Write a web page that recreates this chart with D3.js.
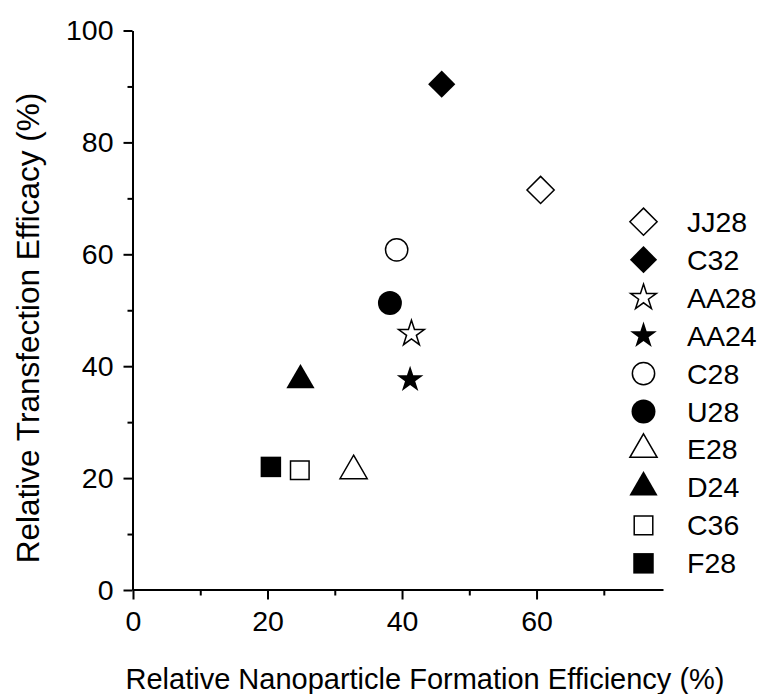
<!DOCTYPE html>
<html>
<head>
<meta charset="utf-8">
<script src="https://cdn.jsdelivr.net/npm/d3@7"></script>
<style>
  html, body { margin: 0; padding: 0; background: #fff; }
  svg { display: block; font-family: "Liberation Sans", Arial, Helvetica, sans-serif; }
</style>
</head>
<body>
<svg id="chart" width="767" height="694"></svg>
<script>
// ---- data ----
const names   = ["JJ28", "C32", "AA28", "AA24", "C28", "U28", "E28", "D24", "C36", "F28"];
const xValues = [60.6, 45.9, 41.4, 41.2, 39.2, 38.2, 32.8, 24.9, 24.8, 20.5];
const yValues = [71.5, 90.4, 45.8, 37.6, 60.8, 51.3, 21.3, 37.5, 21.4, 22.0];
const shapes  = ["diamond", "diamond", "star", "star", "circle", "circle", "triangle", "triangle", "square", "square"];
const filled  = [false, true, false, true, false, true, false, true, false, true];
const xTicks  = [0, 20, 40, 60];
const xMinor  = [10, 30, 50, 70];
const yTicks  = [0, 20, 40, 60, 80, 100];
const yMinor  = [10, 30, 50, 70, 90];

const svg = d3.select("#chart");
const tickFont = 28.5;
const titleFont = 29;
const yTitleFont = 31.5;
const legendFont = 28.5;

const x = d3.scaleLinear().domain([0, 78.8]).range([133, 663]);
const y = d3.scaleLinear().domain([0, 100]).range([590, 30.5]);

// custom square-diamond (rotated square)
const symbolRhombus = {
  draw(ctx, size) {
    const h = Math.sqrt(size / 2);
    ctx.moveTo(0, -h); ctx.lineTo(h, 0); ctx.lineTo(0, h); ctx.lineTo(-h, 0); ctx.closePath();
  }
};
const symType = { diamond: symbolRhombus, star: d3.symbolStar, circle: d3.symbolCircle, triangle: d3.symbolTriangle, square: d3.symbolSquare };
const symSize = { diamond: 370, star: 205, circle: 390, triangle: 320, square: 380 };
function symPath(shape, isFilled) {
  let s = symSize[shape];
  if (shape === "circle" && isFilled) s = 450;
  if (shape === "square" && isFilled) s = 420;
  if (shape === "square" && !isFilled) s = 345;
  if (shape === "star" && isFilled) s = 220;
  if (shape === "triangle" && isFilled) s = 345;
  return d3.symbol().type(symType[shape]).size(s)();
}

// ---- axes ----
function styleAxis(g) {
  g.selectAll("path.domain").attr("stroke", "#000").attr("stroke-width", 2);
  g.selectAll(".tick line").attr("stroke", "#000").attr("stroke-width", 2);
  g.selectAll(".tick text").attr("fill", "#000").style("font-size", tickFont + "px")
    .style("font-family", '"Liberation Sans", Arial, sans-serif');
}

const xAxis = svg.append("g").attr("transform", "translate(0,589.5)")
  .call(d3.axisBottom(x).tickValues(xTicks).tickSize(10).tickSizeOuter(0).tickPadding(11).tickFormat(d3.format("d")));
styleAxis(xAxis);
const xAxisMinor = svg.append("g").attr("transform", "translate(0,589.5)")
  .call(d3.axisBottom(x).tickValues(xMinor).tickSize(6).tickSizeOuter(0).tickFormat(""));
styleAxis(xAxisMinor);
xAxisMinor.select("path.domain").remove();

const yAxis = svg.append("g").attr("transform", "translate(132.5,0)")
  .call(d3.axisLeft(y).tickValues(yTicks).tickSize(9).tickSizeOuter(0).tickPadding(10).tickFormat(d3.format("d")));
styleAxis(yAxis);
const yAxisMinor = svg.append("g").attr("transform", "translate(132.5,0)")
  .call(d3.axisLeft(y).tickValues(yMinor).tickSize(5).tickSizeOuter(0).tickFormat(""));
styleAxis(yAxisMinor);
yAxisMinor.select("path.domain").remove();

// ---- titles ----
svg.append("text")
  .attr("x", 425).attr("y", 689)
  .attr("text-anchor", "middle")
  .style("font-size", titleFont + "px")
  .text("Relative Nanoparticle Formation Efficiency (%)");

svg.append("text")
  .attr("transform", "translate(39,328) rotate(-90)")
  .attr("text-anchor", "middle")
  .style("font-size", yTitleFont + "px")
  .text("Relative Transfection Efficacy (%)");

// ---- points ----
const data = names.map((n, i) => ({ name: n, x: xValues[i], y: yValues[i], shape: shapes[i], filled: filled[i] }));

svg.append("g").selectAll("path")
  .data(data)
  .join("path")
  .attr("transform", d => `translate(${x(d.x)},${y(d.y)})`)
  .attr("d", d => symPath(d.shape, d.filled))
  .attr("fill", d => d.filled ? "#000" : "#fff")
  .attr("stroke", "#000")
  .attr("stroke-width", d => d.filled ? 0 : 1.5);

// ---- legend ----
const legend = svg.append("g");
const rowY = i => 221.7 + i * 37.96;
const lg = legend.selectAll("g").data(data).join("g")
  .attr("transform", (d, i) => `translate(643.5,${rowY(i)})`);
lg.append("path")
  .attr("d", d => symPath(d.shape, d.filled))
  .attr("fill", d => d.filled ? "#000" : "#fff")
  .attr("stroke", "#000")
  .attr("stroke-width", d => d.filled ? 0 : 1.5);
lg.append("text")
  .attr("x", 43.5).attr("y", 10)
  .style("font-size", legendFont + "px")
  .text(d => d.name);
</script>
</body>
</html>
